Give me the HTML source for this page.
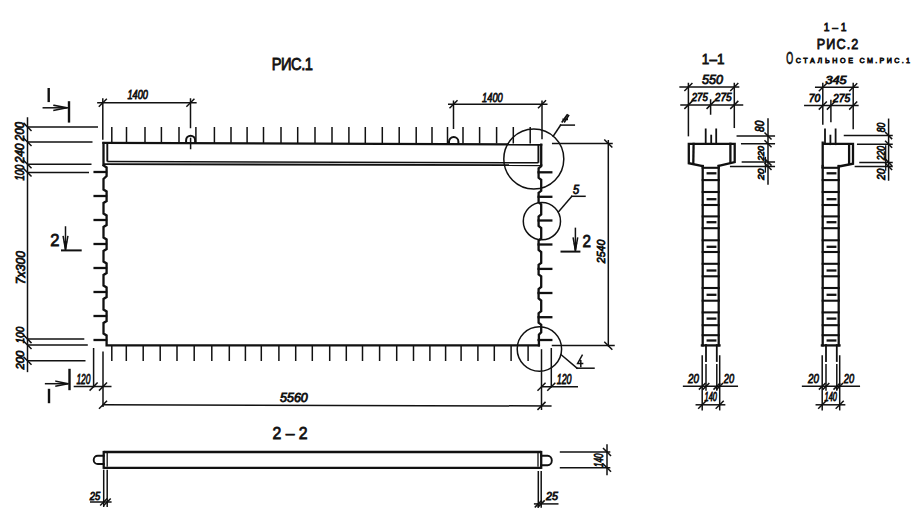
<!DOCTYPE html>
<html><head><meta charset="utf-8"><style>
html,body{margin:0;padding:0;background:#fff;width:916px;height:513px;overflow:hidden}
svg{display:block}
text{font-family:"Liberation Sans",sans-serif;fill:#111111;stroke:#111111;stroke-width:0.8px}
</style></head><body>
<svg width="916" height="513" viewBox="0 0 916 513">
<rect width="916" height="513" fill="#fff"/>
<g stroke="#111111" fill="none" stroke-linecap="square">
<text transform="translate(271.80,70.25) scale(0.92,1)" font-size="15.98" textLength="44.69" lengthAdjust="spacing">РИС.1</text>
<line x1="27.5" y1="118.0" x2="27.5" y2="371.4" stroke-width="1.5"/>
<line x1="24.0" y1="123.4" x2="31.0" y2="130.4" stroke-width="1.5"/>
<line x1="24.0" y1="138.5" x2="31.0" y2="145.5" stroke-width="1.5"/>
<line x1="24.0" y1="160.7" x2="31.0" y2="167.7" stroke-width="1.5"/>
<line x1="24.0" y1="169.0" x2="31.0" y2="176.0" stroke-width="1.5"/>
<line x1="27.5" y1="126.9" x2="98.0" y2="126.9" stroke-width="1.5" stroke-linecap="butt"/>
<line x1="27.5" y1="142.0" x2="92.5" y2="142.0" stroke-width="1.5" stroke-linecap="butt"/>
<line x1="27.5" y1="164.2" x2="91.5" y2="164.2" stroke-width="1.5" stroke-linecap="butt"/>
<line x1="27.5" y1="172.5" x2="89.0" y2="172.5" stroke-width="1.5" stroke-linecap="butt"/>
<line x1="24.0" y1="335.6" x2="31.0" y2="342.6" stroke-width="1.5"/>
<line x1="24.0" y1="341.5" x2="31.0" y2="348.5" stroke-width="1.5"/>
<line x1="24.0" y1="357.3" x2="31.0" y2="364.3" stroke-width="1.5"/>
<line x1="27.5" y1="339.1" x2="84.3" y2="339.1" stroke-width="1.5" stroke-linecap="butt"/>
<line x1="27.5" y1="345.0" x2="87.8" y2="345.0" stroke-width="1.5" stroke-linecap="butt"/>
<line x1="27.5" y1="360.8" x2="85.5" y2="360.8" stroke-width="1.5" stroke-linecap="butt"/>
<text transform="translate(23.55,140.90) rotate(-90) scale(1.0,1)" font-size="11.87" textLength="18.92" lengthAdjust="spacingAndGlyphs" font-style="italic">200</text>
<text transform="translate(23.55,163.10) rotate(-90) scale(1.0,1)" font-size="11.87" textLength="19.52" lengthAdjust="spacingAndGlyphs" font-style="italic">240</text>
<text transform="translate(23.55,180.55) rotate(-90) scale(1.0,1)" font-size="11.87" textLength="15.91" lengthAdjust="spacingAndGlyphs" font-style="italic">100</text>
<text transform="translate(24.65,284.20) rotate(-90) scale(1.0,1)" font-size="11.87" textLength="33.20" lengthAdjust="spacingAndGlyphs" font-style="italic">7x300</text>
<text transform="translate(24.00,343.30) rotate(-90) scale(1.0,1)" font-size="11.25" textLength="16.55" lengthAdjust="spacingAndGlyphs" font-style="italic">100</text>
<text transform="translate(24.00,369.55) rotate(-90) scale(1.0,1)" font-size="11.25" textLength="18.85" lengthAdjust="spacingAndGlyphs" font-style="italic">200</text>
<line x1="48.7" y1="89.2" x2="48.7" y2="100.9" stroke-width="2.4"/>
<line x1="43.3" y1="107.8" x2="68.0" y2="107.8" stroke-width="1.5"/>
<path d="M54,105.3 L67,107.8 L54,110.3" stroke-width="1.5"/>
<line x1="69.0" y1="102.4" x2="69.0" y2="121.4" stroke-width="2.4"/>
<line x1="69.5" y1="370.0" x2="69.5" y2="389.0" stroke-width="2.4"/>
<line x1="45.6" y1="383.7" x2="68.0" y2="383.7" stroke-width="1.5"/>
<path d="M56,381.2 L68,383.7 L56,386.2" stroke-width="1.5"/>
<line x1="49.0" y1="390.0" x2="49.0" y2="402.0" stroke-width="2.4"/>
<text transform="translate(50.20,245.70) scale(0.961,1)" font-size="17.29">2</text>
<line x1="65.5" y1="227.0" x2="65.5" y2="249.6" stroke-width="1.5"/>
<path d="M63.2,236.5 L65.5,249.6 L67.8,236.5" stroke-width="1.5"/>
<path d="M64.2,242 L65.5,249.6 L66.8,242 Z" fill="#111" stroke-width="0.8"/>
<line x1="61.0" y1="250.4" x2="81.7" y2="250.4" stroke-width="2.0" stroke-linecap="butt"/>
<text transform="translate(582.50,247.40) scale(0.891,1)" font-size="17.10">2</text>
<line x1="575.4" y1="228.4" x2="575.4" y2="250.4" stroke-width="1.5"/>
<path d="M573.2,238 L575.4,250.6 L577.6,238" stroke-width="1.5"/>
<path d="M574.1,243.5 L575.4,250.6 L576.7,243.5 Z" fill="#111" stroke-width="0.8"/>
<line x1="560.5" y1="251.6" x2="580.4" y2="251.6" stroke-width="2.0" stroke-linecap="butt"/>
<line x1="97.9" y1="102.8" x2="195.9" y2="102.8" stroke-width="1.5"/>
<line x1="99.3" y1="106.3" x2="106.3" y2="99.3" stroke-width="1.5"/>
<line x1="186.9" y1="106.3" x2="193.9" y2="99.3" stroke-width="1.5"/>
<line x1="102.8" y1="99.0" x2="102.8" y2="139.0" stroke-width="1.5"/>
<line x1="190.5" y1="99.0" x2="190.5" y2="127.5" stroke-width="1.5"/>
<text transform="translate(127.45,98.55) scale(1.0,1)" font-size="12.25" textLength="20.52" lengthAdjust="spacingAndGlyphs" font-style="italic">1400</text>
<line x1="448.0" y1="104.3" x2="547.5" y2="104.3" stroke-width="1.5" stroke-linecap="butt"/>
<line x1="450.0" y1="107.8" x2="457.0" y2="100.8" stroke-width="1.5"/>
<line x1="538.5" y1="107.8" x2="545.5" y2="100.8" stroke-width="1.5"/>
<line x1="453.5" y1="100.5" x2="453.5" y2="129.0" stroke-width="1.5" stroke-linecap="butt"/>
<line x1="542.0" y1="100.5" x2="542.0" y2="139.3" stroke-width="1.5" stroke-linecap="butt"/>
<text transform="translate(482.00,101.50) scale(1.0,1)" font-size="13.66" textLength="20.77" lengthAdjust="spacingAndGlyphs" font-style="italic">1400</text>
<path d="M186.1,143 V140.2 A4.5,4.5 0 0 1 195.1,140.2 V143" stroke-width="1.9999999999999998"/>
<path d="M449,143.3 V141.7 A4.7,4.7 0 0 1 458.4,141.7 V143.3" stroke-width="1.9999999999999998"/>
<line x1="190.6" y1="138.4" x2="190.6" y2="148.5" stroke-width="1.5"/>
<line x1="111.8" y1="127.0" x2="111.8" y2="143.5" stroke-width="1.5" stroke-linecap="butt"/>
<line x1="126.5" y1="127.0" x2="126.5" y2="143.5" stroke-width="1.5" stroke-linecap="butt"/>
<line x1="145.0" y1="127.0" x2="145.0" y2="143.5" stroke-width="1.5" stroke-linecap="butt"/>
<line x1="161.4" y1="127.0" x2="161.4" y2="143.5" stroke-width="1.5" stroke-linecap="butt"/>
<line x1="179.0" y1="127.0" x2="179.0" y2="143.5" stroke-width="1.5" stroke-linecap="butt"/>
<line x1="195.9" y1="127.0" x2="195.9" y2="143.5" stroke-width="1.5" stroke-linecap="butt"/>
<line x1="214.4" y1="127.0" x2="214.4" y2="143.5" stroke-width="1.5" stroke-linecap="butt"/>
<line x1="231.0" y1="127.0" x2="231.0" y2="143.5" stroke-width="1.5" stroke-linecap="butt"/>
<line x1="247.1" y1="127.0" x2="247.1" y2="143.5" stroke-width="1.5" stroke-linecap="butt"/>
<line x1="263.5" y1="127.0" x2="263.5" y2="143.5" stroke-width="1.5" stroke-linecap="butt"/>
<line x1="281.0" y1="127.0" x2="281.0" y2="143.5" stroke-width="1.5" stroke-linecap="butt"/>
<line x1="297.7" y1="127.0" x2="297.7" y2="143.5" stroke-width="1.5" stroke-linecap="butt"/>
<line x1="315.0" y1="127.0" x2="315.0" y2="143.5" stroke-width="1.5" stroke-linecap="butt"/>
<line x1="332.0" y1="127.0" x2="332.0" y2="143.5" stroke-width="1.5" stroke-linecap="butt"/>
<line x1="348.9" y1="127.0" x2="348.9" y2="143.5" stroke-width="1.5" stroke-linecap="butt"/>
<line x1="365.3" y1="127.0" x2="365.3" y2="143.5" stroke-width="1.5" stroke-linecap="butt"/>
<line x1="382.3" y1="127.0" x2="382.3" y2="143.5" stroke-width="1.5" stroke-linecap="butt"/>
<line x1="399.2" y1="127.0" x2="399.2" y2="143.5" stroke-width="1.5" stroke-linecap="butt"/>
<line x1="416.2" y1="127.0" x2="416.2" y2="143.5" stroke-width="1.5" stroke-linecap="butt"/>
<line x1="432.0" y1="127.0" x2="432.0" y2="143.5" stroke-width="1.5" stroke-linecap="butt"/>
<line x1="447.5" y1="127.0" x2="447.5" y2="143.5" stroke-width="1.5" stroke-linecap="butt"/>
<line x1="463.0" y1="127.0" x2="463.0" y2="143.5" stroke-width="1.5" stroke-linecap="butt"/>
<line x1="479.6" y1="127.0" x2="479.6" y2="143.5" stroke-width="1.5" stroke-linecap="butt"/>
<line x1="496.6" y1="127.0" x2="496.6" y2="143.5" stroke-width="1.5" stroke-linecap="butt"/>
<line x1="513.3" y1="127.0" x2="513.3" y2="143.5" stroke-width="1.5" stroke-linecap="butt"/>
<line x1="530.2" y1="127.0" x2="530.2" y2="143.5" stroke-width="1.5" stroke-linecap="butt"/>
<line x1="111.8" y1="345.3" x2="111.8" y2="361.0" stroke-width="1.5" stroke-linecap="butt"/>
<line x1="126.3" y1="345.3" x2="126.3" y2="361.0" stroke-width="1.5" stroke-linecap="butt"/>
<line x1="143.2" y1="345.3" x2="143.2" y2="361.0" stroke-width="1.5" stroke-linecap="butt"/>
<line x1="160.2" y1="345.3" x2="160.2" y2="361.0" stroke-width="1.5" stroke-linecap="butt"/>
<line x1="177.0" y1="345.3" x2="177.0" y2="361.0" stroke-width="1.5" stroke-linecap="butt"/>
<line x1="194.2" y1="345.3" x2="194.2" y2="361.0" stroke-width="1.5" stroke-linecap="butt"/>
<line x1="211.8" y1="345.3" x2="211.8" y2="361.0" stroke-width="1.5" stroke-linecap="butt"/>
<line x1="229.3" y1="345.3" x2="229.3" y2="361.0" stroke-width="1.5" stroke-linecap="butt"/>
<line x1="245.4" y1="345.3" x2="245.4" y2="361.0" stroke-width="1.5" stroke-linecap="butt"/>
<line x1="261.3" y1="345.3" x2="261.3" y2="361.0" stroke-width="1.5" stroke-linecap="butt"/>
<line x1="278.9" y1="345.3" x2="278.9" y2="361.0" stroke-width="1.5" stroke-linecap="butt"/>
<line x1="295.7" y1="345.3" x2="295.7" y2="361.0" stroke-width="1.5" stroke-linecap="butt"/>
<line x1="312.3" y1="345.3" x2="312.3" y2="361.0" stroke-width="1.5" stroke-linecap="butt"/>
<line x1="329.7" y1="345.3" x2="329.7" y2="361.0" stroke-width="1.5" stroke-linecap="butt"/>
<line x1="346.3" y1="345.3" x2="346.3" y2="361.0" stroke-width="1.5" stroke-linecap="butt"/>
<line x1="362.5" y1="345.3" x2="362.5" y2="361.0" stroke-width="1.5" stroke-linecap="butt"/>
<line x1="379.6" y1="345.3" x2="379.6" y2="361.0" stroke-width="1.5" stroke-linecap="butt"/>
<line x1="396.7" y1="345.3" x2="396.7" y2="361.0" stroke-width="1.5" stroke-linecap="butt"/>
<line x1="413.5" y1="345.3" x2="413.5" y2="361.0" stroke-width="1.5" stroke-linecap="butt"/>
<line x1="429.9" y1="345.3" x2="429.9" y2="361.0" stroke-width="1.5" stroke-linecap="butt"/>
<line x1="445.6" y1="345.3" x2="445.6" y2="361.0" stroke-width="1.5" stroke-linecap="butt"/>
<line x1="461.1" y1="345.3" x2="461.1" y2="361.0" stroke-width="1.5" stroke-linecap="butt"/>
<line x1="477.9" y1="345.3" x2="477.9" y2="361.0" stroke-width="1.5" stroke-linecap="butt"/>
<line x1="494.3" y1="345.3" x2="494.3" y2="361.0" stroke-width="1.5" stroke-linecap="butt"/>
<line x1="511.1" y1="345.3" x2="511.1" y2="361.0" stroke-width="1.5" stroke-linecap="butt"/>
<line x1="528.1" y1="345.3" x2="528.1" y2="361.0" stroke-width="1.5" stroke-linecap="butt"/>
<line x1="102.3" y1="142.9" x2="542.3" y2="144.5" stroke-width="2.3" stroke-linecap="butt"/>
<line x1="103.5" y1="141.9" x2="103.5" y2="165.5" stroke-width="2.3" stroke-linecap="butt"/>
<line x1="107.3" y1="142.9" x2="107.3" y2="161.5" stroke-width="1.9" stroke-linecap="butt"/>
<line x1="107.3" y1="161.5" x2="538.4" y2="162.8" stroke-width="1.5" stroke-linecap="butt"/>
<line x1="103.5" y1="164.1" x2="541.2" y2="165.2" stroke-width="1.9" stroke-linecap="butt"/>
<line x1="541.2" y1="143.5" x2="541.2" y2="166.0" stroke-width="2.3" stroke-linecap="butt"/>
<line x1="538.4" y1="144.5" x2="538.4" y2="162.8" stroke-width="1.9" stroke-linecap="butt"/>
<path d="M103.5,165.5 L106.6,167.5 V176 L103.5,179 V189.5 L106.6,191.5 V201 L103.5,203 V213.5 L106.6,215.5 V225 L103.5,227 V237.5 L106.6,239.5 V249 L103.5,251 V261.5 L106.6,263.5 V273 L103.5,275 V285.5 L106.6,287.5 V297 L103.5,299 V309.5 L106.6,311.5 V321 L103.5,323 V333.5 L106.6,335.5 V345.3 H538.9" stroke-width="2.3"/>
<path d="M541.2,165.5 V166.3 L538.6,168.3 V177.8 L541.2,179.8 V190.8 L538.6,192.8 V202.3 L541.2,204.3 V214.5 L538.6,216.5 V226.0 L541.2,228.0 V238.5 L538.6,240.5 V250.0 L541.2,252.0 V262.9 L538.6,264.9 V274.4 L541.2,276.4 V287 L538.6,289 V298.5 L541.2,300.5 V311.2 L538.6,313.2 V322.7 L541.2,324.7 V332.2 L538.9,334.6 V345.4" stroke-width="2.3"/>
<line x1="94.6" y1="172.0" x2="106.0" y2="172.0" stroke-width="2.3"/>
<line x1="94.6" y1="196.0" x2="106.0" y2="196.0" stroke-width="2.3"/>
<line x1="94.6" y1="220.0" x2="106.0" y2="220.0" stroke-width="2.3"/>
<line x1="94.6" y1="244.0" x2="106.0" y2="244.0" stroke-width="2.3"/>
<line x1="94.6" y1="268.0" x2="106.0" y2="268.0" stroke-width="2.3"/>
<line x1="94.6" y1="292.0" x2="106.0" y2="292.0" stroke-width="2.3"/>
<line x1="94.6" y1="316.0" x2="106.0" y2="316.0" stroke-width="2.3"/>
<line x1="94.6" y1="340.0" x2="106.0" y2="340.0" stroke-width="2.3"/>
<line x1="538.6" y1="172.3" x2="551.3" y2="172.3" stroke-width="2.3"/>
<line x1="538.6" y1="196.8" x2="551.3" y2="196.8" stroke-width="2.3"/>
<line x1="538.6" y1="220.5" x2="551.3" y2="220.5" stroke-width="2.3"/>
<line x1="538.6" y1="244.5" x2="551.3" y2="244.5" stroke-width="2.3"/>
<line x1="538.6" y1="268.9" x2="551.3" y2="268.9" stroke-width="2.3"/>
<line x1="538.6" y1="293.0" x2="551.3" y2="293.0" stroke-width="2.3"/>
<line x1="538.6" y1="317.2" x2="551.3" y2="317.2" stroke-width="2.3"/>
<line x1="538.6" y1="340.0" x2="551.3" y2="340.0" stroke-width="2.3"/>
<circle cx="533.8" cy="159" r="30" stroke-width="1.5"/>
<circle cx="541.9" cy="221.2" r="18.6" stroke-width="1.5"/>
<circle cx="539.4" cy="349" r="22.2" stroke-width="1.5"/>
<line x1="553.2" y1="136.2" x2="560.6" y2="125.1" stroke-width="1.5"/>
<line x1="560.6" y1="125.1" x2="574.3" y2="125.1" stroke-width="1.5"/>
<path d="M562.2,121.8 L567.2,114.8 M564.6,121.8 L568.6,115.6 M563.2,119.4 H567.2" stroke-width="1.6"/>
<line x1="558.6" y1="211.8" x2="571.8" y2="196.3" stroke-width="1.5"/>
<line x1="571.8" y1="196.3" x2="585.0" y2="196.3" stroke-width="1.5"/>
<text transform="translate(573.00,193.70) scale(0.930,1)" font-size="11.89" font-style="italic">5</text>
<line x1="561.5" y1="355.0" x2="577.0" y2="368.2" stroke-width="1.5"/>
<line x1="577.0" y1="368.2" x2="594.0" y2="368.2" stroke-width="1.5"/>
<path d="M582.2,355.2 L577.6,363.6 H582.6 M580.8,360.8 V366.4" stroke-width="1.5"/>
<line x1="608.3" y1="140.0" x2="608.3" y2="346.3" stroke-width="1.5" stroke-linecap="butt"/>
<line x1="604.8" y1="140.0" x2="611.8" y2="147.0" stroke-width="1.5"/>
<line x1="604.8" y1="342.3" x2="611.8" y2="349.3" stroke-width="1.5"/>
<line x1="552.7" y1="143.5" x2="612.0" y2="143.5" stroke-width="1.5"/>
<line x1="552.5" y1="345.5" x2="614.0" y2="345.5" stroke-width="1.5"/>
<text transform="translate(605.25,263.20) rotate(-90) scale(1.0,1)" font-size="11.84" textLength="23.57" lengthAdjust="spacingAndGlyphs" font-style="italic">2540</text>
<line x1="93.6" y1="348.0" x2="93.6" y2="387.5" stroke-width="1.5" stroke-linecap="butt"/>
<line x1="103.0" y1="351.5" x2="103.0" y2="407.0" stroke-width="1.5" stroke-linecap="butt"/>
<line x1="73.7" y1="386.6" x2="111.5" y2="386.6" stroke-width="1.5" stroke-linecap="butt"/>
<line x1="90.1" y1="390.1" x2="97.1" y2="383.1" stroke-width="1.5"/>
<line x1="99.5" y1="390.1" x2="106.5" y2="383.1" stroke-width="1.5"/>
<text transform="translate(76.40,383.60) scale(1.0,1)" font-size="15.15" textLength="14.11" lengthAdjust="spacingAndGlyphs" font-style="italic">120</text>
<line x1="541.5" y1="349.2" x2="541.5" y2="410.0" stroke-width="1.5" stroke-linecap="butt"/>
<line x1="551.3" y1="348.0" x2="551.3" y2="387.5" stroke-width="1.5" stroke-linecap="butt"/>
<line x1="541.5" y1="386.7" x2="578.0" y2="386.7" stroke-width="1.5" stroke-linecap="butt"/>
<line x1="538.0" y1="390.2" x2="545.0" y2="383.2" stroke-width="1.5"/>
<line x1="547.8" y1="390.2" x2="554.8" y2="383.2" stroke-width="1.5"/>
<text transform="translate(556.70,383.70) scale(1.0,1)" font-size="13.74" textLength="14.88" lengthAdjust="spacingAndGlyphs" font-style="italic">120</text>
<line x1="103.0" y1="404.7" x2="551.6" y2="406.0" stroke-width="1.5" stroke-linecap="butt"/>
<line x1="99.5" y1="408.2" x2="106.5" y2="401.2" stroke-width="1.5"/>
<line x1="538.0" y1="409.4" x2="545.0" y2="402.4" stroke-width="1.5"/>
<text transform="translate(280.00,402.25) scale(1.0,1)" font-size="11.92" textLength="27.77" lengthAdjust="spacingAndGlyphs" font-style="italic">5560</text>
<text transform="translate(272.50,438.50) scale(0.92,1)" font-size="17.21" textLength="38.19" lengthAdjust="spacing">2–2</text>
<line x1="103.7" y1="452.0" x2="541.2" y2="452.0" stroke-width="2.3" stroke-linecap="butt"/>
<line x1="103.7" y1="467.8" x2="541.2" y2="467.8" stroke-width="2.3" stroke-linecap="butt"/>
<line x1="103.7" y1="450.9" x2="103.7" y2="468.9" stroke-width="2.3" stroke-linecap="butt"/>
<line x1="541.2" y1="450.9" x2="541.2" y2="468.9" stroke-width="2.3" stroke-linecap="butt"/>
<path d="M107.2,453.5 V467 M538,453.5 V467" stroke-width="1.3" stroke-dasharray="2.2,1.3"/>
<path d="M103.7,455.8 H97.8 A4.1,4.1 0 0 0 97.8,464 H103.7" stroke-width="1.9"/>
<path d="M541.2,455.8 H547.6 A4.2,4.75 0 0 1 547.6,465.3 H541.2" stroke-width="1.9"/>
<line x1="103.7" y1="469.7" x2="103.7" y2="507.0" stroke-width="1.5" stroke-linecap="butt"/>
<line x1="107.2" y1="469.7" x2="107.2" y2="507.0" stroke-width="1.5" stroke-linecap="butt"/>
<line x1="90.0" y1="502.0" x2="111.6" y2="502.0" stroke-width="1.5" stroke-linecap="butt"/>
<line x1="100.7" y1="505.0" x2="106.7" y2="499.0" stroke-width="1.5"/>
<line x1="104.2" y1="505.0" x2="110.2" y2="499.0" stroke-width="1.5"/>
<text transform="translate(89.80,499.65) scale(1.0,1)" font-size="10.42" textLength="10.49" lengthAdjust="spacingAndGlyphs" font-style="italic">25</text>
<line x1="538.3" y1="471.0" x2="538.3" y2="507.7" stroke-width="1.5" stroke-linecap="butt"/>
<line x1="541.2" y1="471.0" x2="541.2" y2="507.7" stroke-width="1.5" stroke-linecap="butt"/>
<line x1="533.9" y1="503.9" x2="558.5" y2="503.9" stroke-width="1.5" stroke-linecap="butt"/>
<line x1="535.3" y1="506.9" x2="541.3" y2="500.9" stroke-width="1.5"/>
<line x1="538.2" y1="506.9" x2="544.2" y2="500.9" stroke-width="1.5"/>
<text transform="translate(546.05,499.65) scale(1.0,1)" font-size="10.42" textLength="11.88" lengthAdjust="spacingAndGlyphs" font-style="italic">25</text>
<line x1="559.8" y1="452.0" x2="610.3" y2="452.0" stroke-width="1.5" stroke-linecap="butt"/>
<line x1="559.8" y1="467.8" x2="610.3" y2="467.8" stroke-width="1.5" stroke-linecap="butt"/>
<line x1="607.0" y1="445.0" x2="607.0" y2="474.6" stroke-width="1.5"/>
<line x1="603.5" y1="448.5" x2="610.5" y2="455.5" stroke-width="1.5"/>
<line x1="603.5" y1="464.3" x2="610.5" y2="471.3" stroke-width="1.5"/>
<text transform="translate(602.60,467.00) rotate(-90) scale(1.0,1)" font-size="12.14" textLength="13.45" lengthAdjust="spacingAndGlyphs" font-style="italic">140</text>
<text transform="translate(701.80,63.80) scale(0.92,1)" font-size="14.63" textLength="24.69" lengthAdjust="spacing">1–1</text>
<text transform="translate(702.00,84.35) scale(1.0,1)" font-size="13.26" textLength="21.00" lengthAdjust="spacingAndGlyphs" font-style="italic">550</text>
<line x1="680.1" y1="87.0" x2="738.6" y2="87.0" stroke-width="1.5"/>
<line x1="684.9" y1="90.5" x2="691.9" y2="83.5" stroke-width="1.5"/>
<line x1="730.8" y1="90.5" x2="737.8" y2="83.5" stroke-width="1.5"/>
<text transform="translate(691.70,101.25) scale(1.0,1)" font-size="10.65" textLength="16.08" lengthAdjust="spacingAndGlyphs" font-style="italic">275</text>
<text transform="translate(714.80,101.25) scale(1.0,1)" font-size="10.65" textLength="16.96" lengthAdjust="spacingAndGlyphs" font-style="italic">275</text>
<line x1="681.0" y1="104.9" x2="742.5" y2="104.9" stroke-width="1.5"/>
<line x1="684.9" y1="108.4" x2="691.9" y2="101.4" stroke-width="1.5"/>
<line x1="707.1" y1="108.4" x2="714.1" y2="101.4" stroke-width="1.5"/>
<line x1="730.8" y1="108.4" x2="737.8" y2="101.4" stroke-width="1.5"/>
<line x1="688.4" y1="83.5" x2="688.4" y2="135.6" stroke-width="1.5"/>
<line x1="734.3" y1="83.5" x2="734.3" y2="127.3" stroke-width="1.5"/>
<line x1="710.6" y1="100.0" x2="710.6" y2="114.0" stroke-width="1.5"/>
<line x1="705.7" y1="129.4" x2="705.7" y2="143.4" stroke-width="1.8"/>
<line x1="711.2" y1="135.6" x2="711.2" y2="143.4" stroke-width="1.8"/>
<line x1="716.2" y1="129.4" x2="716.2" y2="143.4" stroke-width="1.8"/>
<path d="M688.8,143.8 H734.7 V162 L718.7,165.8 M688.8,143.8 V163.2 L702.7,166.2" stroke-width="2.3"/>
<line x1="693.6" y1="143.8" x2="693.3" y2="163.6" stroke-width="2.3"/>
<line x1="730.4" y1="143.8" x2="730.4" y2="162.6" stroke-width="2.3"/>
<line x1="702.7" y1="167.8" x2="718.7" y2="167.8" stroke-width="2.0999999999999996"/>
<line x1="702.7" y1="180.1" x2="718.7" y2="180.1" stroke-width="2.0999999999999996"/>
<line x1="702.7" y1="192.0" x2="718.7" y2="192.0" stroke-width="2.0999999999999996"/>
<line x1="702.7" y1="205.0" x2="718.7" y2="205.0" stroke-width="2.0999999999999996"/>
<line x1="702.7" y1="216.4" x2="718.7" y2="216.4" stroke-width="2.0999999999999996"/>
<line x1="702.7" y1="228.2" x2="718.7" y2="228.2" stroke-width="2.0999999999999996"/>
<line x1="702.7" y1="240.3" x2="718.7" y2="240.3" stroke-width="2.0999999999999996"/>
<line x1="702.7" y1="252.0" x2="718.7" y2="252.0" stroke-width="2.0999999999999996"/>
<line x1="702.7" y1="263.8" x2="718.7" y2="263.8" stroke-width="2.0999999999999996"/>
<line x1="702.7" y1="276.3" x2="718.7" y2="276.3" stroke-width="2.0999999999999996"/>
<line x1="702.7" y1="288.0" x2="718.7" y2="288.0" stroke-width="2.0999999999999996"/>
<line x1="702.7" y1="300.7" x2="718.7" y2="300.7" stroke-width="2.0999999999999996"/>
<line x1="702.7" y1="312.4" x2="718.7" y2="312.4" stroke-width="2.0999999999999996"/>
<line x1="702.7" y1="325.2" x2="718.7" y2="325.2" stroke-width="2.0999999999999996"/>
<line x1="702.7" y1="335.2" x2="718.7" y2="335.2" stroke-width="2.0999999999999996"/>
<line x1="707.7" y1="173.3" x2="715.3" y2="173.3" stroke-width="2.3"/>
<line x1="707.7" y1="199.2" x2="715.3" y2="199.2" stroke-width="2.3"/>
<line x1="707.7" y1="222.2" x2="715.3" y2="222.2" stroke-width="2.3"/>
<line x1="707.7" y1="246.8" x2="715.3" y2="246.8" stroke-width="2.3"/>
<line x1="707.7" y1="270.5" x2="715.3" y2="270.5" stroke-width="2.3"/>
<line x1="707.7" y1="294.8" x2="715.3" y2="294.8" stroke-width="2.3"/>
<line x1="707.7" y1="318.6" x2="715.3" y2="318.6" stroke-width="2.3"/>
<line x1="707.7" y1="340.5" x2="715.3" y2="340.5" stroke-width="2.3"/>
<line x1="702.7" y1="166.0" x2="702.7" y2="345.4" stroke-width="2.3"/>
<line x1="718.7" y1="166.0" x2="718.7" y2="345.4" stroke-width="2.3"/>
<line x1="701.9" y1="345.4" x2="719.5" y2="345.4" stroke-width="2.3"/>
<line x1="706.0" y1="345.0" x2="706.0" y2="361.0" stroke-width="1.8"/>
<line x1="716.8" y1="345.0" x2="716.8" y2="361.0" stroke-width="1.8"/>
<line x1="702.2" y1="356.0" x2="702.2" y2="409.7" stroke-width="1.5"/>
<line x1="719.7" y1="356.0" x2="719.7" y2="409.7" stroke-width="1.5"/>
<line x1="706.0" y1="364.8" x2="706.0" y2="390.0" stroke-width="1.5"/>
<line x1="716.8" y1="364.8" x2="716.8" y2="390.0" stroke-width="1.5"/>
<line x1="683.6" y1="386.3" x2="737.3" y2="386.3" stroke-width="1.5"/>
<line x1="699.4" y1="389.1" x2="705.0" y2="383.5" stroke-width="1.5"/>
<line x1="703.2" y1="389.1" x2="708.8" y2="383.5" stroke-width="1.5"/>
<line x1="714.0" y1="389.1" x2="719.6" y2="383.5" stroke-width="1.5"/>
<line x1="716.9" y1="389.1" x2="722.5" y2="383.5" stroke-width="1.5"/>
<line x1="696.3" y1="404.8" x2="724.6" y2="404.8" stroke-width="1.5"/>
<line x1="698.7" y1="408.3" x2="705.7" y2="401.3" stroke-width="1.5"/>
<line x1="716.2" y1="408.3" x2="723.2" y2="401.3" stroke-width="1.5"/>
<text transform="translate(688.10,383.35) scale(1.0,1)" font-size="13.24" textLength="10.94" lengthAdjust="spacingAndGlyphs" font-style="italic">20</text>
<text transform="translate(723.85,383.35) scale(1.0,1)" font-size="13.24" textLength="10.34" lengthAdjust="spacingAndGlyphs" font-style="italic">20</text>
<text transform="translate(704.60,401.30) scale(1.0,1)" font-size="11.87" textLength="12.37" lengthAdjust="spacingAndGlyphs" font-style="italic">140</text>
<line x1="768.0" y1="119.0" x2="768.0" y2="184.0" stroke-width="1.5"/>
<line x1="737.3" y1="136.0" x2="774.3" y2="136.0" stroke-width="1.5"/>
<line x1="741.7" y1="143.8" x2="774.3" y2="143.8" stroke-width="1.5"/>
<line x1="742.4" y1="162.1" x2="774.3" y2="162.1" stroke-width="1.5"/>
<line x1="730.7" y1="166.5" x2="774.3" y2="166.5" stroke-width="1.5"/>
<line x1="765.0" y1="133.0" x2="771.0" y2="139.0" stroke-width="1.5"/>
<line x1="765.0" y1="140.8" x2="771.0" y2="146.8" stroke-width="1.5"/>
<line x1="765.0" y1="159.1" x2="771.0" y2="165.1" stroke-width="1.5"/>
<line x1="765.0" y1="163.5" x2="771.0" y2="169.5" stroke-width="1.5"/>
<text transform="translate(763.70,131.95) rotate(-90) scale(1.0,1)" font-size="11.87" textLength="11.27" lengthAdjust="spacingAndGlyphs" font-style="italic">80</text>
<line x1="765.4" y1="157.5" x2="765.4" y2="172.0" stroke-width="1.3"/>
<text transform="translate(764.00,160.85) rotate(-90) scale(1.0,1)" font-size="9.68" textLength="14.88" lengthAdjust="spacingAndGlyphs" font-style="italic">220</text>
<text transform="translate(764.00,180.00) rotate(-90) scale(1.0,1)" font-size="9.68" textLength="11.34" lengthAdjust="spacingAndGlyphs" font-style="italic">20</text>
<text transform="translate(823.80,31.00) scale(0.92,1)" font-size="11.22" textLength="24.66" lengthAdjust="spacing">1–1</text>
<text transform="translate(816.80,48.60) scale(0.92,1)" font-size="13.73" textLength="45.17" lengthAdjust="spacing">РИС.2</text>
<text transform="translate(786.20,64.30) scale(0.568,1)" font-size="15.60">О</text>
<text transform="translate(795.70,63.30) scale(0.92,1)" font-size="7.79" textLength="62.30" lengthAdjust="spacing">СТАЛЬНОЕ</text>
<text transform="translate(859.50,63.30) scale(0.92,1)" font-size="7.79" textLength="54.96" lengthAdjust="spacing">СМ.РИС.1</text>
<text transform="translate(825.45,84.00) scale(1.0,1)" font-size="10.55" textLength="21.10" lengthAdjust="spacingAndGlyphs" font-style="italic">345</text>
<line x1="815.7" y1="87.3" x2="857.9" y2="87.3" stroke-width="1.5"/>
<line x1="819.3" y1="90.8" x2="826.3" y2="83.8" stroke-width="1.5"/>
<line x1="849.7" y1="90.8" x2="856.7" y2="83.8" stroke-width="1.5"/>
<text transform="translate(808.75,101.55) scale(1.0,1)" font-size="10.55" textLength="11.44" lengthAdjust="spacingAndGlyphs" font-style="italic">70</text>
<text transform="translate(833.05,101.55) scale(1.0,1)" font-size="10.05" textLength="17.16" lengthAdjust="spacingAndGlyphs" font-style="italic">275</text>
<line x1="804.8" y1="105.6" x2="857.9" y2="105.6" stroke-width="1.5"/>
<line x1="819.3" y1="109.1" x2="826.3" y2="102.1" stroke-width="1.5"/>
<line x1="827.4" y1="109.1" x2="834.4" y2="102.1" stroke-width="1.5"/>
<line x1="849.7" y1="109.1" x2="856.7" y2="102.1" stroke-width="1.5"/>
<line x1="822.8" y1="83.4" x2="822.8" y2="124.0" stroke-width="1.5"/>
<line x1="830.9" y1="100.6" x2="830.9" y2="121.6" stroke-width="1.5"/>
<line x1="853.2" y1="83.4" x2="853.2" y2="128.6" stroke-width="1.5"/>
<line x1="825.0" y1="129.4" x2="825.0" y2="144.2" stroke-width="1.8"/>
<line x1="830.4" y1="135.6" x2="830.4" y2="144.2" stroke-width="1.8"/>
<line x1="835.6" y1="129.4" x2="835.6" y2="144.2" stroke-width="1.8"/>
<path d="M822.7,143.8 H853 V163.7 L838.7,166.5 M822.7,142.7 V167" stroke-width="2.3"/>
<line x1="849.1" y1="145.0" x2="849.1" y2="163.3" stroke-width="2.3"/>
<line x1="822.7" y1="167.8" x2="838.7" y2="167.8" stroke-width="2.0999999999999996"/>
<line x1="822.7" y1="180.1" x2="838.7" y2="180.1" stroke-width="2.0999999999999996"/>
<line x1="822.7" y1="192.0" x2="838.7" y2="192.0" stroke-width="2.0999999999999996"/>
<line x1="822.7" y1="205.0" x2="838.7" y2="205.0" stroke-width="2.0999999999999996"/>
<line x1="822.7" y1="216.4" x2="838.7" y2="216.4" stroke-width="2.0999999999999996"/>
<line x1="822.7" y1="228.2" x2="838.7" y2="228.2" stroke-width="2.0999999999999996"/>
<line x1="822.7" y1="240.3" x2="838.7" y2="240.3" stroke-width="2.0999999999999996"/>
<line x1="822.7" y1="252.0" x2="838.7" y2="252.0" stroke-width="2.0999999999999996"/>
<line x1="822.7" y1="263.8" x2="838.7" y2="263.8" stroke-width="2.0999999999999996"/>
<line x1="822.7" y1="276.3" x2="838.7" y2="276.3" stroke-width="2.0999999999999996"/>
<line x1="822.7" y1="288.0" x2="838.7" y2="288.0" stroke-width="2.0999999999999996"/>
<line x1="822.7" y1="300.7" x2="838.7" y2="300.7" stroke-width="2.0999999999999996"/>
<line x1="822.7" y1="312.4" x2="838.7" y2="312.4" stroke-width="2.0999999999999996"/>
<line x1="822.7" y1="325.2" x2="838.7" y2="325.2" stroke-width="2.0999999999999996"/>
<line x1="822.7" y1="335.2" x2="838.7" y2="335.2" stroke-width="2.0999999999999996"/>
<line x1="827.7" y1="173.3" x2="835.3" y2="173.3" stroke-width="2.3"/>
<line x1="827.7" y1="199.2" x2="835.3" y2="199.2" stroke-width="2.3"/>
<line x1="827.7" y1="222.2" x2="835.3" y2="222.2" stroke-width="2.3"/>
<line x1="827.7" y1="246.8" x2="835.3" y2="246.8" stroke-width="2.3"/>
<line x1="827.7" y1="270.5" x2="835.3" y2="270.5" stroke-width="2.3"/>
<line x1="827.7" y1="294.8" x2="835.3" y2="294.8" stroke-width="2.3"/>
<line x1="827.7" y1="318.6" x2="835.3" y2="318.6" stroke-width="2.3"/>
<line x1="827.7" y1="340.5" x2="835.3" y2="340.5" stroke-width="2.3"/>
<line x1="822.7" y1="166.0" x2="822.7" y2="345.4" stroke-width="2.3"/>
<line x1="838.7" y1="166.0" x2="838.7" y2="345.4" stroke-width="2.3"/>
<line x1="821.9" y1="345.4" x2="839.5" y2="345.4" stroke-width="2.3"/>
<line x1="826.0" y1="345.0" x2="826.0" y2="361.0" stroke-width="1.8"/>
<line x1="836.8" y1="345.0" x2="836.8" y2="361.0" stroke-width="1.8"/>
<line x1="822.2" y1="356.0" x2="822.2" y2="409.7" stroke-width="1.5"/>
<line x1="839.7" y1="356.0" x2="839.7" y2="409.7" stroke-width="1.5"/>
<line x1="826.0" y1="364.8" x2="826.0" y2="390.0" stroke-width="1.5"/>
<line x1="836.8" y1="364.8" x2="836.8" y2="390.0" stroke-width="1.5"/>
<line x1="802.6" y1="386.3" x2="859.3" y2="386.3" stroke-width="1.5"/>
<line x1="819.4" y1="389.1" x2="825.0" y2="383.5" stroke-width="1.5"/>
<line x1="823.2" y1="389.1" x2="828.8" y2="383.5" stroke-width="1.5"/>
<line x1="834.0" y1="389.1" x2="839.6" y2="383.5" stroke-width="1.5"/>
<line x1="836.9" y1="389.1" x2="842.5" y2="383.5" stroke-width="1.5"/>
<line x1="816.3" y1="404.8" x2="844.6" y2="404.8" stroke-width="1.5"/>
<line x1="818.7" y1="408.3" x2="825.7" y2="401.3" stroke-width="1.5"/>
<line x1="836.2" y1="408.3" x2="843.2" y2="401.3" stroke-width="1.5"/>
<text transform="translate(808.10,383.35) scale(1.0,1)" font-size="13.24" textLength="10.94" lengthAdjust="spacingAndGlyphs" font-style="italic">20</text>
<text transform="translate(843.85,383.35) scale(1.0,1)" font-size="13.24" textLength="10.34" lengthAdjust="spacingAndGlyphs" font-style="italic">20</text>
<text transform="translate(824.60,401.30) scale(1.0,1)" font-size="11.87" textLength="12.37" lengthAdjust="spacingAndGlyphs" font-style="italic">140</text>
<line x1="888.6" y1="119.3" x2="888.6" y2="180.0" stroke-width="1.5"/>
<line x1="844.5" y1="135.6" x2="892.0" y2="135.6" stroke-width="1.5"/>
<line x1="857.7" y1="144.2" x2="892.0" y2="144.2" stroke-width="1.5"/>
<line x1="860.0" y1="162.4" x2="892.0" y2="162.4" stroke-width="1.5"/>
<line x1="855.4" y1="166.5" x2="892.0" y2="166.5" stroke-width="1.5"/>
<line x1="885.6" y1="132.6" x2="891.6" y2="138.6" stroke-width="1.5"/>
<line x1="885.6" y1="141.2" x2="891.6" y2="147.2" stroke-width="1.5"/>
<line x1="885.6" y1="159.4" x2="891.6" y2="165.4" stroke-width="1.5"/>
<line x1="885.6" y1="163.5" x2="891.6" y2="169.5" stroke-width="1.5"/>
<text transform="translate(884.60,132.25) rotate(-90) scale(1.0,1)" font-size="10.14" textLength="9.55" lengthAdjust="spacingAndGlyphs" font-style="italic">80</text>
<line x1="885.7" y1="146.0" x2="885.7" y2="170.0" stroke-width="1.3"/>
<text transform="translate(885.00,160.20) rotate(-90) scale(1.0,1)" font-size="11.25" textLength="14.22" lengthAdjust="spacingAndGlyphs" font-style="italic">220</text>
<text transform="translate(885.00,180.00) rotate(-90) scale(1.0,1)" font-size="11.25" textLength="11.34" lengthAdjust="spacingAndGlyphs" font-style="italic">20</text>
</g>
</svg>
</body></html>
